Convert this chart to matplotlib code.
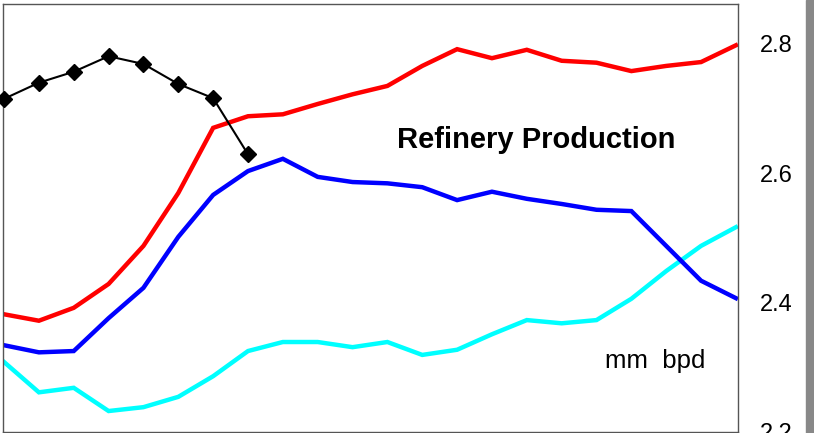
"""
Refinery production chart: three yearly series plus a partial current year,
right-hand axis in million barrels per day.
"""
import numpy as np
import matplotlib
matplotlib.use("Agg")
import matplotlib.pyplot as plt

plt.rcParams["font.family"] = ["Liberation Sans", "DejaVu Sans"]

# weekly/period values, mm bpd
red_vals = [2.381, 2.371, 2.391, 2.428, 2.487, 2.569, 2.670, 2.688, 2.691,
            2.707, 2.722, 2.735, 2.766, 2.792, 2.778, 2.791, 2.774, 2.771,
            2.758, 2.766, 2.772, 2.798]
blue_vals = [2.333, 2.322, 2.324, 2.375, 2.422, 2.501, 2.566, 2.603, 2.622,
             2.594, 2.586, 2.584, 2.578, 2.558, 2.571, 2.560, 2.552, 2.543,
             2.541, 2.487, 2.433, 2.406]
cyan_vals = [2.307, 2.260, 2.267, 2.231, 2.237, 2.253, 2.285, 2.324, 2.338,
             2.338, 2.330, 2.338, 2.318, 2.326, 2.350, 2.372, 2.367, 2.372,
             2.405, 2.448, 2.487, 2.516]
black_vals = [2.715, 2.740, 2.757, 2.781, 2.769, 2.738, 2.716, 2.629]

y_ticks = [2.2, 2.4, 2.6, 2.8]

W_PX, H_PX, DPI = 814, 433, 100
fig = plt.figure(figsize=(W_PX / DPI, H_PX / DPI), dpi=DPI)

# axes box in pixels: left 3, right 738, top 4, bottom 432
ax = fig.add_axes([3 / W_PX, 1 / H_PX, (738 - 3) / W_PX, (432 - 4) / H_PX])

# grey strip on the far right
fig.patches.append(plt.Rectangle((806 / W_PX, 0), 8 / W_PX, 1,
                                 transform=fig.transFigure,
                                 color="#888888", zorder=0))

x = np.arange(len(red_vals))
ax.plot(x, cyan_vals, color="#00ffff", lw=3.2, solid_joinstyle="miter")
ax.plot(x, blue_vals, color="#0000ff", lw=3.2, solid_joinstyle="miter")
ax.plot(x, red_vals, color="#ff0000", lw=3.2, solid_joinstyle="miter")
xb = np.arange(len(black_vals))
ax.plot(xb, black_vals, color="black", lw=1.5, marker="D", markersize=8.5,
        clip_on=False, zorder=5)

ax.set_xlim(-0.03, 21.06)
ax.set_ylim(2.1985, 2.862)

ax.set_xticks([])
ax.yaxis.tick_right()
ax.set_yticks(y_ticks)
ax.set_yticklabels([f"{v:.1f}" for v in y_ticks])
ax.tick_params(axis="y", length=0, pad=15.5, labelsize=17)

for s in ax.spines.values():
    s.set_color("#555555")
    s.set_linewidth(1.0)

ax.text(0.726, 0.682, "Refinery Production", transform=ax.transAxes,
        ha="center", va="center", fontsize=21, weight="bold")
ax.text(0.887, 0.165, "mm  bpd", transform=ax.transAxes,
        ha="center", va="center", fontsize=18.5)

fig.savefig("out.png", dpi=DPI)
